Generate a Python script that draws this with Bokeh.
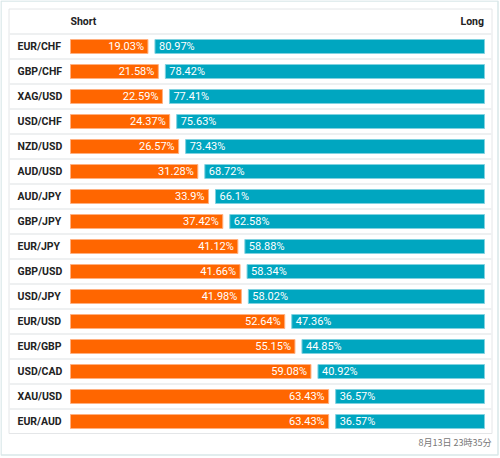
from bokeh.plotting import figure
from bokeh.models import ColumnDataSource, Range1d
from bokeh.core.properties import value
from bokeh.embed import file_html
from bokeh.resources import INLINE

pairs = ["EUR/CHF", "GBP/CHF", "XAG/USD", "USD/CHF", "NZD/USD", "AUD/USD", "AUD/JPY",
         "GBP/JPY", "EUR/JPY", "GBP/USD", "USD/JPY", "EUR/USD", "EUR/GBP", "USD/CAD",
         "XAU/USD", "EUR/AUD"]
short_pct = [19.03, 21.58, 22.59, 24.37, 26.57, 31.28, 33.9, 37.42, 41.12, 41.66, 41.98,
             52.64, 55.15, 59.08, 63.43, 63.43]
long_pct = [80.97, 78.42, 77.41, 75.63, 73.43, 68.72, 66.1, 62.58, 58.88, 58.34, 58.02,
            47.36, 44.85, 40.92, 36.57, 36.57]
header_short = "Short"
header_long = "Long"
timestamp = "8月13日 23時35分"

W, H = 500, 458
BX0 = 70.0         # left pixel of bars
PX = 4.07          # pixels per percent
GAP = 7 / PX       # gap between the two bars, in percent units
ROW = 25.0
Y0 = 46.0          # pixel centre of first row


def xp(px):
    return (px - BX0) / PX


def yp(py):
    return (py - Y0) / ROW


n = len(pairs)
src = ColumnDataSource(dict(
    y=list(range(n)),
    pair=pairs,
    s0=[0] * n,
    s1=short_pct,
    l0=[s + GAP for s in short_pct],
    l1=[s + GAP + l for s, l in zip(short_pct, long_pct)],
    slab=[f"{v:g}%" for v in short_pct],
    llab=[f"{v:g}%" for v in long_pct],
))

p = figure(width=W, height=H, output_backend="svg", toolbar_location=None,
           x_range=Range1d(xp(0), xp(W)),
           y_range=Range1d(yp(H), yp(0)),
           min_border=0, outline_line_color=None)
p.axis.visible = False
p.grid.visible = False
p.background_fill_color = "white"
p.border_fill_color = "white"

# outer frame
p.quad(left=[xp(0.5)], right=[xp(497.5)], top=[yp(0.5)], bottom=[yp(454.5)],
       fill_color="white", line_color="#d9e7e9", line_width=1.5)

# table border
p.quad(left=[xp(8.5)], right=[xp(491.5)], top=[yp(8.5)], bottom=[yp(433)],
       fill_color=None, line_color="#e4e6e8", line_width=1)
# row separators
seps = [i - 0.5 for i in range(n)]
p.segment(x0=[xp(9)] * n, x1=[xp(491)] * n, y0=seps, y1=seps,
          line_color="#eef0f1", line_width=2)

bh = 0.56
p.hbar(y="y", left="s0", right="s1", height=bh, source=src,
       fill_color="#ff6600", line_color="#ffb080", line_width=1)
p.hbar(y="y", left="l0", right="l1", height=bh, source=src,
       fill_color="#00a6c0", line_color="#80d2e0", line_width=1)

p.text(x="s1", y="y", text="slab", source=src, x_offset=-4, text_align="right",
       text_baseline="middle", text_color="white", text_font=value("Roboto"),
       text_font_size="11px")
p.text(x="l0", y="y", text="llab", source=src, x_offset=4, text_align="left",
       text_baseline="middle", text_color="white", text_font=value("Roboto"),
       text_font_size="11px")
p.text(x=xp(17), y="y", text="pair", source=src, text_align="left",
       text_baseline="middle", text_color="#222222", text_font=value("Roboto"),
       text_font_style="bold", text_font_size="10.5px")

p.text(x=[0], y=[yp(20.5)], text=[header_short], text_align="left", text_baseline="middle",
       text_color="#222222", text_font=value("Roboto"), text_font_style="bold",
       text_font_size="10.5px")
p.text(x=[xp(483.5)], y=[yp(20.5)], text=[header_long], text_align="right",
       text_baseline="middle", text_color="#222222", text_font=value("Roboto"),
       text_font_style="bold", text_font_size="10.5px")

p.text(x=[xp(491)], y=[yp(442)], text=[timestamp], text_align="right",
       text_baseline="middle", text_color="#777777", text_font=value("Noto Sans CJK JP"),
       text_font_size="9px")

open("out.html", "w").write(file_html(p, INLINE))
